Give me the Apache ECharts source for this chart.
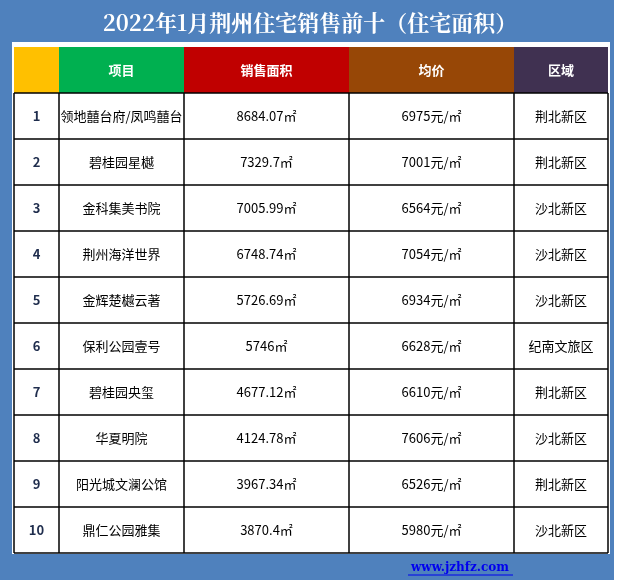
<!DOCTYPE html>
<html>
<head>
<meta charset="utf-8">
<script src="https://cdn.jsdelivr.net/npm/echarts@6/dist/echarts.min.js"></script>
<style>html,body{margin:0;padding:0;background:#fff}#main{width:623px;height:582px}</style>
</head>
<body>
<div id="main"></div>
<script>
var title = '2022年1月荆州住宅销售前十（住宅面积）';
var headers = ['', '项目', '销售面积', '均价', '区域'];
var headerColors = ['#ffc000', '#00b050', '#c00000', '#974706', '#403151'];
var ranks = ['1', '2', '3', '4', '5', '6', '7', '8', '9', '10'];
var projects = ['领地囍台府/凤鸣囍台', '碧桂园星樾', '金科集美书院', '荆州海洋世界', '金辉楚樾云著',
                '保利公园壹号', '碧桂园央玺', '华夏明院', '阳光城文澜公馆', '鼎仁公园雅集'];
var areas = ['8684.07㎡', '7329.7㎡', '7005.99㎡', '6748.74㎡', '5726.69㎡',
             '5746㎡', '4677.12㎡', '4124.78㎡', '3967.34㎡', '3870.4㎡'];
var prices = ['6975元/㎡', '7001元/㎡', '6564元/㎡', '7054元/㎡', '6934元/㎡',
              '6628元/㎡', '6610元/㎡', '7606元/㎡', '6526元/㎡', '5980元/㎡'];
var districts = ['荆北新区', '荆北新区', '沙北新区', '沙北新区', '沙北新区',
                 '纪南文旅区', '荆北新区', '沙北新区', '荆北新区', '沙北新区'];
var link = 'www.jzhfz.com';

var colX = [14, 59, 184, 349, 514, 608];
var headTop = 47, headH = 46, rowH = 46;
var font = '"Noto Sans CJK SC", "Liberation Sans", sans-serif';

var els = [];
// 背景
els.push({type: 'rect', shape: {x: 0, y: 0, width: 614, height: 580}, style: {fill: '#4f81bd'}});
els.push({type: 'rect', shape: {x: 12, y: 42, width: 598, height: 512}, style: {fill: '#fff'}});
els.push({type: 'text', x: 310, y: 23, style: {text: title, fill: '#fff', font: 'bold 22px "Noto Serif CJK SC", "Noto Sans CJK SC", serif', align: 'center', verticalAlign: 'middle'}});

// 表头
headers.forEach(function (h, i) {
    els.push({type: 'rect', shape: {x: colX[i], y: headTop, width: colX[i + 1] - colX[i], height: headH}, style: {fill: headerColors[i]}});
    els.push({type: 'text', x: (colX[i] + colX[i + 1]) / 2, y: headTop + headH / 2, style: {text: h, fill: '#fff', font: 'bold 13px ' + font, align: 'center', verticalAlign: 'middle'}});
});

// 数据行
var cols = [ranks, projects, areas, prices, districts];
var bodyTop = headTop + headH;
ranks.forEach(function (r, j) {
    var y = bodyTop + j * rowH;
    cols.forEach(function (arr, i) {
        els.push({type: 'text', x: (colX[i] + colX[i + 1]) / 2, y: y + rowH / 2,
            style: {text: arr[j], fill: i === 0 ? '#1f2d4d' : '#000', font: (i === 0 ? 'bold ' : '') + '13px ' + font, align: 'center', verticalAlign: 'middle'}});
    });
});

// 网格线
var bodyBottom = bodyTop + ranks.length * rowH;
for (var j = 0; j <= ranks.length; j++) {
    var yy = bodyTop + j * rowH;
    els.push({type: 'line', shape: {x1: colX[0], y1: yy, x2: colX[5], y2: yy}, style: {stroke: '#000', lineWidth: 1.5}});
}
colX.forEach(function (x) {
    els.push({type: 'line', shape: {x1: x, y1: bodyTop, x2: x, y2: bodyBottom}, style: {stroke: '#000', lineWidth: 1.5}});
});

// 底部链接
els.push({type: 'text', x: 460, y: 568, style: {text: link, fill: '#0000ee', font: 'bold 12px "DejaVu Serif", serif', align: 'center', verticalAlign: 'middle'}});
els.push({type: 'line', shape: {x1: 408, y1: 575, x2: 513, y2: 575}, style: {stroke: '#0000ee', lineWidth: 1}});

var chart = echarts.init(document.getElementById('main'));
chart.setOption({animation: false, graphic: {elements: els}});
</script>
</body>
</html>
